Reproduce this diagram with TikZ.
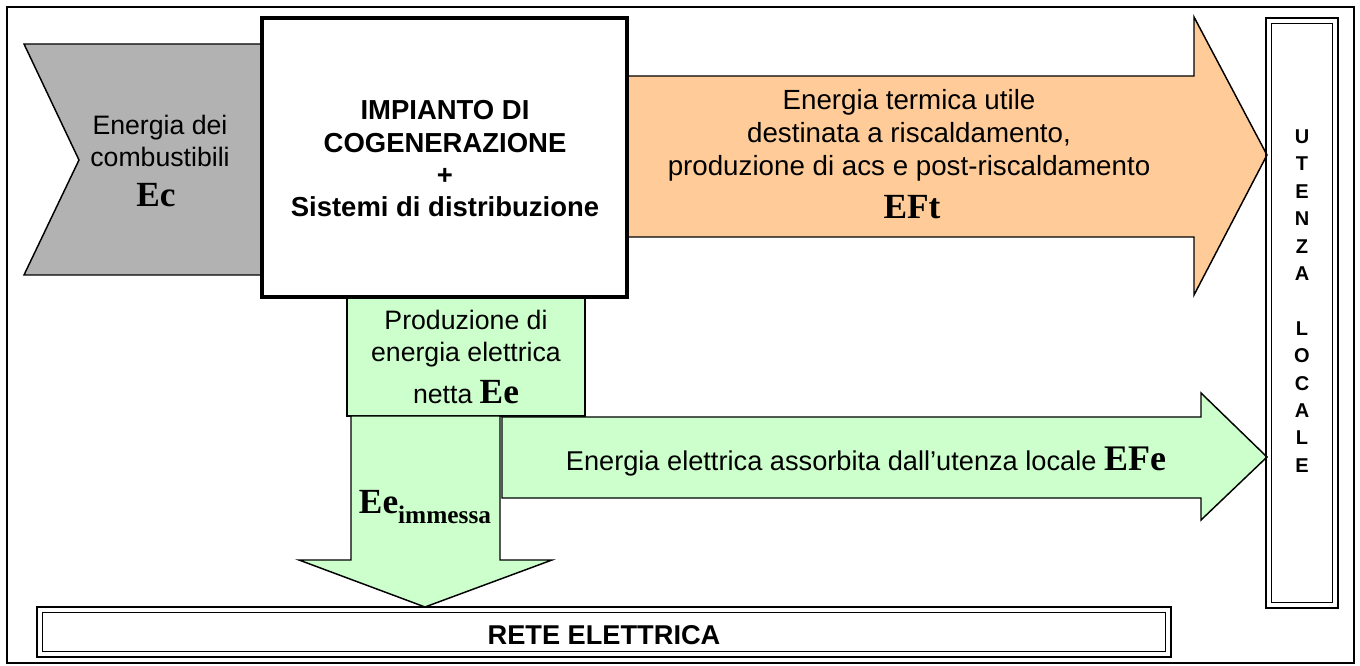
\documentclass[tikz,border=0pt]{standalone}
\usepackage{fontspec}
\newfontfamily\arialf{Liberation Sans}
\newfontfamily\tnrf{Liberation Serif}
\definecolor{greyfill}{RGB}{178,178,178}
\definecolor{orangefill}{RGB}{255,204,153}
\definecolor{greenfill}{RGB}{204,255,204}
\tikzset{
  shapeline/.style={draw=black, line width=1.1pt, line join=miter},
  txt/.style={anchor=base, inner sep=0pt, font=\arialf\fontsize{20}{24}\selectfont},
  otxt/.style={anchor=base, inner sep=0pt, font=\arialf\fontsize{20.8}{24}\selectfont},
  btxt/.style={anchor=base, inner sep=0pt, font=\arialf\bfseries\fontsize{20.6}{24}\selectfont},
  vtxt/.style={anchor=base, inner sep=0pt, font=\arialf\bfseries\fontsize{15}{18}\selectfont},
  sym/.style={anchor=base, inner sep=0pt, font=\tnrf\bfseries\fontsize{26.5}{30}\selectfont},
}
\begin{document}
\begin{tikzpicture}[x=0.75pt,y=-0.75pt]
\useasboundingbox (0,0) rectangle (1360,666);
% outer frame
\draw[line width=1.5pt] (7,7) rectangle (1354,663);
% grey chevron
\filldraw[shapeline, fill=greyfill] (24,44) -- (266,44) -- (266,275) -- (24,275) -- (79,160) -- cycle;
% orange arrow
\filldraw[shapeline, fill=orangefill] (620,76) -- (1194,76) -- (1194,17) -- (1267,155) -- (1194,295) -- (1194,237) -- (620,237) -- cycle;
% green production box
\filldraw[shapeline, fill=greenfill] (347,290) rectangle (585,416);
% down arrow
\filldraw[shapeline, fill=greenfill] (351,416) -- (500,416) -- (500,560) -- (552,560) -- (425,607) -- (299,560) -- (351,560) -- cycle;
% right green arrow
\filldraw[shapeline, fill=greenfill] (502,417) -- (1201,417) -- (1201,393) -- (1267,457) -- (1201,520) -- (1201,498) -- (502,498) -- cycle;
% main box
\filldraw[draw=black, fill=white, line width=3.4pt] (262,18) rectangle (627,297);
% utenza locale box (double border)
\draw[line width=1.8pt] (1266,18) rectangle (1338,608);
\draw[line width=1.1pt] (1271.5,23.5) rectangle (1332.5,602.5);
% rete elettrica box (double border)
\draw[line width=1.8pt] (37,607) rectangle (1171,657);
\draw[line width=1.1pt] (42.5,612.5) rectangle (1165.5,651.5);

% texts
\node[txt] (ec1) at (160,135) {Energia dei};
\node[txt] (ec2) at (160,167) {combustibili};
\node[sym] (ec) at (156,207) {Ec};

\node[btxt] (im1) at (445,120) {IMPIANTO DI};
\node[btxt] (im2) at (445,153) {COGENERAZIONE};
\node[btxt] (im3) at (445,185) {+};
\node[btxt] (im4) at (445,217) {Sistemi di distribuzione};

\node[otxt] (t1) at (909,110) {Energia termica utile};
\node[otxt] (t2) at (909,143) {destinata a riscaldamento,};
\node[otxt] (t3) at (909,176) {produzione di acs e post-riscaldamento};
\node[sym] (eft) at (912,219) {EFt};

\node[txt] (p1) at (466,330) {Produzione di};
\node[txt] (p2) at (466,362) {energia elettrica};
\node[anchor=base, inner sep=0pt] (p3) at (466,404) {\arialf\fontsize{20}{24}\selectfont netta \tnrf\bfseries\fontsize{26.5}{30}\selectfont Ee};

\node[anchor=base, inner sep=0pt] (eei) at (425,513) {\tnrf\bfseries\fontsize{26.5}{30}\selectfont Ee\raisebox{-0.3em}{\fontsize{19}{22}\selectfont immessa}};

\node[anchor=base, inner sep=0pt] (efe) at (866,470) {\arialf\fontsize{20.4}{24}\selectfont Energia elettrica assorbita dall’utenza locale \tnrf\bfseries\fontsize{27}{30}\selectfont EFe};

\node[anchor=base, inner sep=0pt, font=\arialf\bfseries\fontsize{20.4}{24}\selectfont] (rete) at (604,644) {RETE ELETTRICA};

\foreach \ch [count=\k from 0] in {U,T,E,N,Z,A,{},L,O,C,A,L,E}
  \node[vtxt] (u\k) at (1302,{143.5+27.4*\k}) {\ch};
\end{tikzpicture}
\end{document}
